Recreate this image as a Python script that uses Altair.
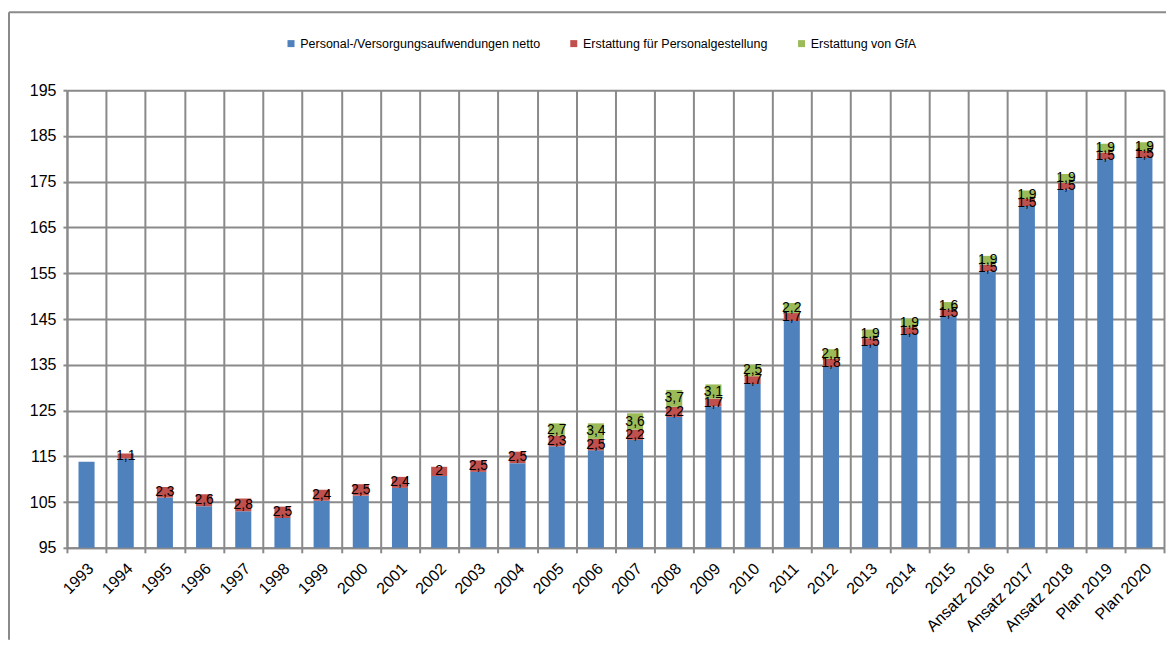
import altair as alt
import pandas as pd

categories = ["1993", "1994", "1995", "1996", "1997", "1998", "1999", "2000",
              "2001", "2002", "2003", "2004", "2005", "2006", "2007", "2008",
              "2009", "2010", "2011", "2012", "2013", "2014", "2015",
              "Ansatz 2016", "Ansatz 2017", "Ansatz 2018", "Plan 2019", "Plan 2020"]
netto = [113.8, 114.5, 106.0, 104.1, 103.0, 101.5, 105.3, 106.4, 108.1, 110.7,
         111.6, 113.5, 117.2, 116.3, 118.6, 123.6, 125.9, 130.8, 144.6, 134.5,
         139.3, 141.7, 145.6, 155.4, 169.7, 173.3, 179.9, 180.2]
personal = [None, 1.1, 2.3, 2.6, 2.8, 2.5, 2.4, 2.5, 2.4, 2.0, 2.5, 2.5, 2.3, 2.5,
            2.2, 2.2, 1.7, 1.7, 1.7, 1.8, 1.5, 1.5, 1.5, 1.5, 1.5, 1.5, 1.5, 1.5]
gfa = [None, None, None, None, None, None, None, None, None, None, None, None,
       2.7, 3.4, 3.6, 3.7, 3.1, 2.5, 2.2, 2.1, 1.9, 1.9, 1.6, 1.9, 1.9, 1.9, 1.9, 1.9]

series_names = ["Personal-/Versorgungsaufwendungen netto",
                "Erstattung für Personalgestellung",
                "Erstattung von GfA"]
series_colors = ["#4F81BD", "#C0504D", "#9BBB59"]
y_ticks = [95, 105, 115, 125, 135, 145, 155, 165, 175, 185, 195]


def fmt(v):
    s = ("%.1f" % v).rstrip("0").rstrip(".")
    return s.replace(".", ",")


rows = []
for i, c in enumerate(categories):
    for k, vals in enumerate([netto, personal, gfa]):
        v = vals[i]
        if v is None:
            continue
        rows.append({"cat": c, "series": series_names[k], "idx": k,
                     "value": v, "label": fmt(v) if k > 0 else ""})
df = pd.DataFrame(rows)

GRID = "#8a8a8a"
FONT = "Liberation Sans"

base = alt.Chart(df).transform_stack(
    stack="value", groupby=["cat"], as_=["y0", "y1"],
    sort=[alt.SortField("idx", order="ascending")]
).transform_calculate(mid="(datum.y0 + datum.y1) / 2")

xenc = alt.X("cat:N", sort=categories, title=None,
             scale=alt.Scale(paddingInner=0, paddingOuter=0),
             axis=alt.Axis(labelAngle=-45, labelAlign="right", labelBaseline="middle",
                           labelFontSize=16, labelFont=FONT, labelColor="#000000",
                           labelPadding=13, labelOffset=4,
                           tickBand="extent", grid=True, gridColor=GRID, gridWidth=2,
                           tickColor=GRID, tickWidth=2, tickSize=5,
                           domainColor=GRID, domainWidth=2))
yscale = alt.Scale(domain=[95, 195], nice=False, zero=False)

bars = base.mark_bar(clip=True, width=alt.RelativeBandSize(0.41)).encode(
    x=xenc,
    y=alt.Y("y0:Q", scale=yscale, title=None,
            axis=alt.Axis(values=y_ticks, grid=True, gridColor=GRID, gridWidth=2,
                          tickColor=GRID, tickWidth=2, tickSize=4,
                          domainColor=GRID, domainWidth=2,
                          labelFontSize=16, labelFont=FONT, labelColor="#000000",
                          labelPadding=7)),
    y2="y1:Q",
    color=alt.Color("series:N",
                    scale=alt.Scale(domain=series_names, range=series_colors),
                    legend=alt.Legend(title=None, orient="none", direction="horizontal",
                                      legendX=218, legendY=-53,
                                      symbolType="square", symbolSize=49,
                                      symbolStrokeWidth=0, labelFontSize=12.5,
                                      labelFont=FONT, labelColor="#000000",
                                      labelLimit=500,
                                      labelOffset=3, columnPadding=27)),
    order=alt.Order("idx:Q"),
)

texts = base.transform_filter("datum.idx > 0").mark_text(
    fontSize=14, font=FONT, color="#000000", align="center", baseline="middle"
).encode(
    x=alt.X("cat:N", sort=categories),
    y=alt.Y("mid:Q", scale=yscale),
    text="label:N",
)

border_data = alt.Data(values=[{"b": 1}])
left_line = alt.Chart(border_data).mark_rule(color=GRID, strokeWidth=2).encode(
    x=alt.value(-58), y=alt.value(-78), y2=alt.value(550))
top_line = alt.Chart(border_data).mark_rule(color=GRID, strokeWidth=2).encode(
    x=alt.value(-58), x2=alt.value(1100), y=alt.value(-78))

chart = alt.layer(bars, texts, left_line, top_line).properties(
    width=1098, height=458,
    padding={"left": 0, "top": 3, "right": 0, "bottom": 0},
).configure_view(strokeWidth=0).configure(background="white")

chart.save("out.html", embed_options={"renderer": "svg", "actions": False})
